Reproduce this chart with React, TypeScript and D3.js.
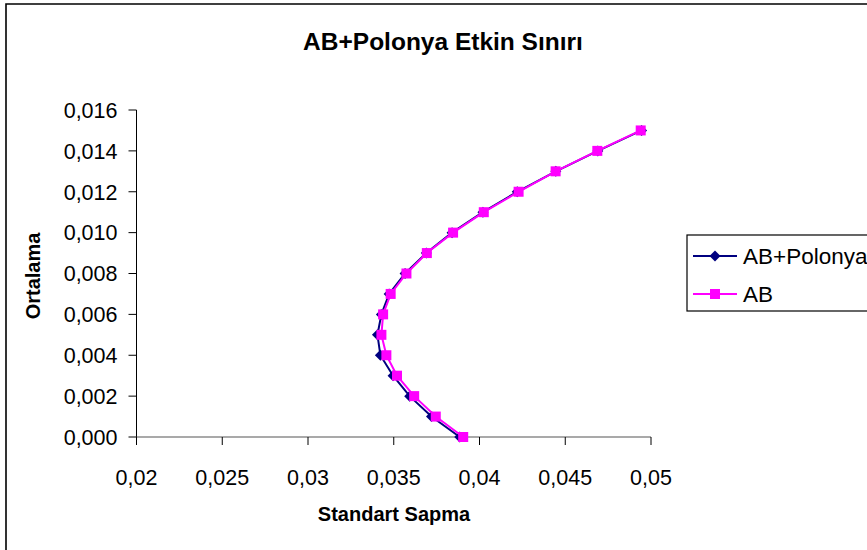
import React from "react";
import * as d3 from "d3";

const means = [0, 0.001, 0.002, 0.003, 0.004, 0.005, 0.006, 0.007, 0.008, 0.009, 0.01, 0.011, 0.012, 0.013, 0.014, 0.015];
const abPolonyaStd = [0.03885, 0.0372, 0.03593, 0.03496, 0.03422, 0.03405, 0.03428, 0.03473, 0.03566, 0.0369, 0.0384, 0.0402, 0.0422, 0.04445, 0.0469, 0.04945];
const abStd = [0.03905, 0.03745, 0.03619, 0.03519, 0.03457, 0.03428, 0.03438, 0.03482, 0.03574, 0.03693, 0.03846, 0.04025, 0.04228, 0.04444, 0.04687, 0.0494];
const xTicks = [0.02, 0.025, 0.03, 0.035, 0.04, 0.045, 0.05];
const yTicks = [0, 0.002, 0.004, 0.006, 0.008, 0.01, 0.012, 0.014, 0.016];
const seriesNames = ["AB+Polonya", "AB"];
const title = "AB+Polonya Etkin Sınırı";
const xTitle = "Standart Sapma";
const yTitle = "Ortalama";

const W = 867;
const H = 550;
const FONT = "'Liberation Sans', Arial, sans-serif";

export default function App() {
  const x = d3.scaleLinear().domain([0.02, 0.05]).range([136.5, 651]);
  const y = d3.scaleLinear().domain([0, 0.016]).range([437, 110]);

  const fmtX = (v: number) => String(+v.toFixed(3)).replace(".", ",");
  const fmtY = (v: number) => v.toFixed(3).replace(".", ",");

  const line = d3
    .line<[number, number]>()
    .x((d) => x(d[0]))
    .y((d) => y(d[1]));

  const navyPts: [number, number][] = abPolonyaStd.map((s, i) => [s, means[i]]);
  const pinkPts: [number, number][] = abStd.map((s, i) => [s, means[i]]);

  const diamond = (cx: number, cy: number, r: number) =>
    `M${cx},${cy - r}L${cx + r},${cy}L${cx},${cy + r}L${cx - r},${cy}Z`;

  return (
    <svg
      width={W}
      height={H}
      style={{ position: "absolute", left: 0, top: 0, background: "#fff" }}
      fontFamily={FONT}
    >
      <rect x={0} y={0} width={W} height={H} fill="#fff" />
      <path d={`M6,${H + 5}V4H${W + 5}`} fill="none" stroke="#000" strokeWidth={1.6} />

      <text x={443} y={49.5} textAnchor="middle" fontSize={24.5} fontWeight="bold">
        {title}
      </text>

      {/* Y axis */}
      <line x1={x(0.02)} x2={x(0.02)} y1={y(0.016)} y2={y(0)} stroke="#000" strokeWidth={1} />
      {yTicks.map((t) => (
        <g key={"y" + t}>
          <line x1={x(0.02) - 8} x2={x(0.02)} y1={y(t)} y2={y(t)} stroke="#000" strokeWidth={1} />
          <text x={117.5} y={y(t) + 7.8} textAnchor="end" fontSize={21.5}>
            {fmtY(t)}
          </text>
        </g>
      ))}

      {/* X axis */}
      <line x1={x(0.02)} x2={x(0.05)} y1={y(0)} y2={y(0)} stroke="#555" strokeWidth={1.2} />
      {xTicks.map((t) => (
        <g key={"x" + t}>
          <line x1={x(t)} x2={x(t)} y1={y(0)} y2={y(0) + 8} stroke="#000" strokeWidth={1} />
          <text x={x(t)} y={484.5} textAnchor="middle" fontSize={21.5}>
            {fmtX(t)}
          </text>
        </g>
      ))}

      <text x={394} y={521} textAnchor="middle" fontSize={20} fontWeight="bold">
        {xTitle}
      </text>
      <text
        transform={`translate(40,276) rotate(-90)`}
        textAnchor="middle"
        fontSize={20}
        fontWeight="bold"
      >
        {yTitle}
      </text>

      {/* Series 1 navy */}
      <path d={line(navyPts) || ""} fill="none" stroke="#000080" strokeWidth={2} />
      {navyPts.map((p, i) => (
        <path key={"n" + i} d={diamond(x(p[0]), y(p[1]), 5.5)} fill="#000080" />
      ))}

      {/* Series 2 magenta */}
      <path d={line(pinkPts) || ""} fill="none" stroke="#FF00FF" strokeWidth={2} />
      {pinkPts.map((p, i) => (
        <rect key={"m" + i} x={x(p[0]) - 5} y={y(p[1]) - 5} width={10} height={10} fill="#FF00FF" />
      ))}

      {/* Legend */}
      <rect x={687} y={235} width={200} height={76} fill="#fff" stroke="#000" strokeWidth={1.2} />
      <line x1={693} x2={737} y1={256} y2={256} stroke="#000080" strokeWidth={2} />
      <path d={diamond(715, 256, 5.5)} fill="#000080" />
      <text x={743} y={264} fontSize={22.5}>
        {seriesNames[0]}
      </text>
      <line x1={693} x2={737} y1={294} y2={294} stroke="#FF00FF" strokeWidth={2} />
      <rect x={710} y={289} width={10} height={10} fill="#FF00FF" />
      <text x={743} y={302} fontSize={22.5}>
        {seriesNames[1]}
      </text>
    </svg>
  );
}
